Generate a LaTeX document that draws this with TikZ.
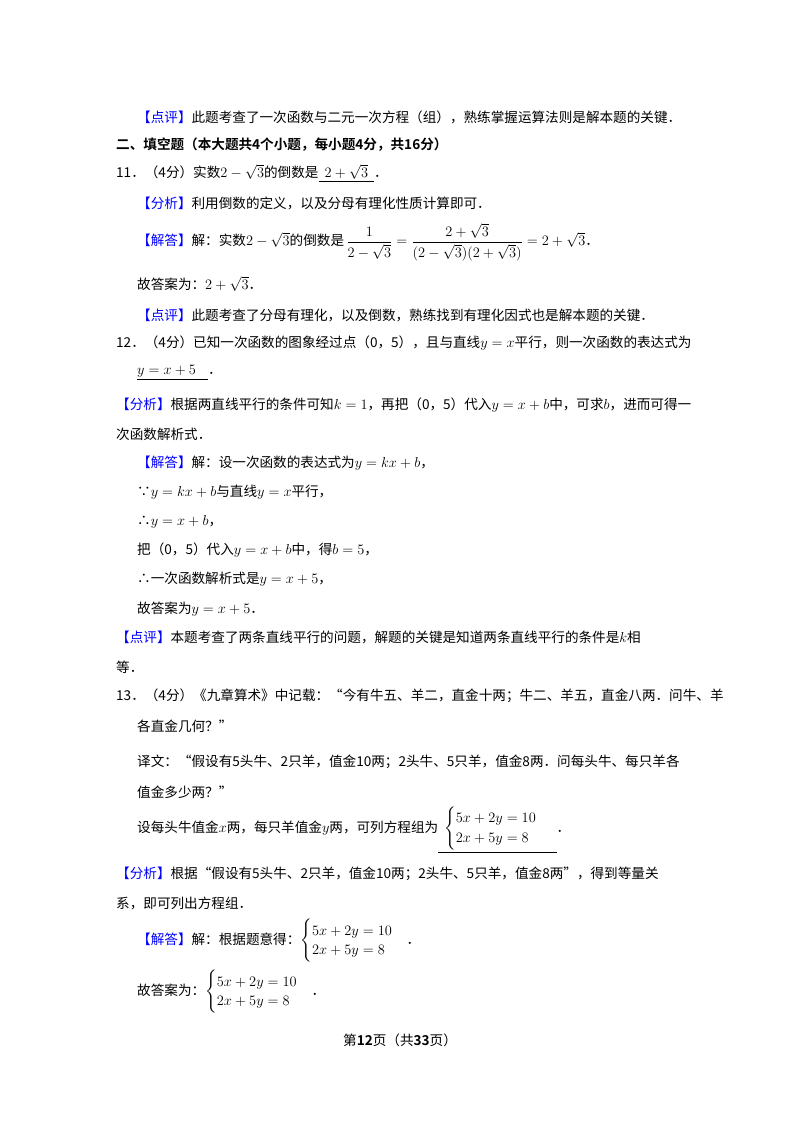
\documentclass[tikz,border=0pt]{standalone}
\usepackage{fontspec}
\setmainfont{Noto Sans CJK SC}
\newfontfamily\cjkb{Noto Sans CJK SC Bold}
\usepackage{amsmath}
\newcommand{\tg}[1]{\textcolor{blue}{【#1】}}
\begin{document}
\begin{tikzpicture}[x=1pt,y=-1pt,
  tx/.style={anchor=west,inner sep=0pt,font=\fontsize{13.6}{16}\selectfont}]
\useasboundingbox[fill=white] (0,0) rectangle (800,1132);
\node[tx] (l1) at (137,117) {\tg{点评}此题考查了一次函数与二元一次方程（组），熟练掌握运算法则是解本题的关键．};
\node[tx] (l2) at (116,145) {\cjkb 二、填空题（本大题共4个小题，每小题4分，共16分）};
\node[tx] (l3) at (116,173) {11．（4分）实数$2-\sqrt{3}$的倒数是\underline{\ \ $2+\sqrt{3}$\ \ }．};
\node[tx] (l4) at (137,203) {\tg{分析}利用倒数的定义，以及分母有理化性质计算即可．};
\node[tx] (l5) at (137,242) {\tg{解答}解：实数$2-\sqrt{3}$的倒数是\,$\dfrac{1}{2-\sqrt{3}}=\dfrac{2+\sqrt{3}}{(2-\sqrt{3})(2+\sqrt{3})}=2+\sqrt{3}$．};
\node[tx] (l6) at (137,284) {故答案为：$2+\sqrt{3}$．};
\node[tx] (l7) at (137,315) {\tg{点评}此题考查了分母有理化，以及倒数，熟练找到有理化因式也是解本题的关键．};
\node[tx] (l8) at (116,343) {12．（4分）已知一次函数的图象经过点（0，5），且与直线$y=x$平行，则一次函数的表达式为};
\node[tx] (l9) at (137,373) {\underline{$y=x+5$\ \ \ \ }．};
\node[tx] (l10) at (116,405) {\tg{分析}根据两直线平行的条件可知$k=1$，再把（0，5）代入$y=x+b$中，可求$b$，进而可得一};
\node[tx] (l11) at (116,434) {次函数解析式．};
\node[tx] (l12) at (137,463) {\tg{解答}解：设一次函数的表达式为$y=kx+b$，};
\node[tx] (l13) at (137,492) {∵$y=kx+b$与直线$y=x$平行，};
\node[tx] (l14) at (137,522) {∴$y=x+b$，};
\node[tx] (l15) at (137,550) {把（0，5）代入$y=x+b$中，得$b=5$，};
\node[tx] (l16) at (137,579) {∴一次函数解析式是$y=x+5$，};
\node[tx] (l17) at (137,609) {故答案为$y=x+5$．};
\node[tx] (l18) at (116,637) {\tg{点评}本题考查了两条直线平行的问题，解题的关键是知道两条直线平行的条件是$k$相};
\node[tx] (l19) at (116,667) {等．};
\node[tx] (l20) at (116,696) {13．（4分）《九章算术》中记载：“今有牛五、羊二，直金十两；牛二、羊五，直金八两．问牛、羊};
\node[tx] (l21) at (137,726) {各直金几何？”};
\node[tx] (l22) at (137,762) {译文：“假设有5头牛、2只羊，值金10两；2头牛、5只羊，值金8两．问每头牛、每只羊各};
\node[tx] (l23) at (137,792) {值金多少两？”};
\node[tx] (l24) at (137,830) {设每头牛值金$x$两，每只羊值金$y$两，可列方程组为\underline{\ \ $\begin{cases}5x+2y=10\\2x+5y=8\end{cases}$\ \ }．};
\node[tx] (l25) at (116,874) {\tg{分析}根据“假设有5头牛、2只羊，值金10两；2头牛、5只羊，值金8两”，得到等量关};
\node[tx] (l26) at (116,903) {系，即可列出方程组．};
\node[tx] (l27) at (137,941) {\tg{解答}解：根据题意得：$\begin{cases}5x+2y=10\\2x+5y=8\end{cases}$．};
\node[tx] (l28) at (137,992) {故答案为：$\begin{cases}5x+2y=10\\2x+5y=8\end{cases}$．};
\node[tx,anchor=center] (l29) at (400,1040) {第{\cjkb 12}页（共{\cjkb 33}页）};
\end{tikzpicture}
\end{document}
